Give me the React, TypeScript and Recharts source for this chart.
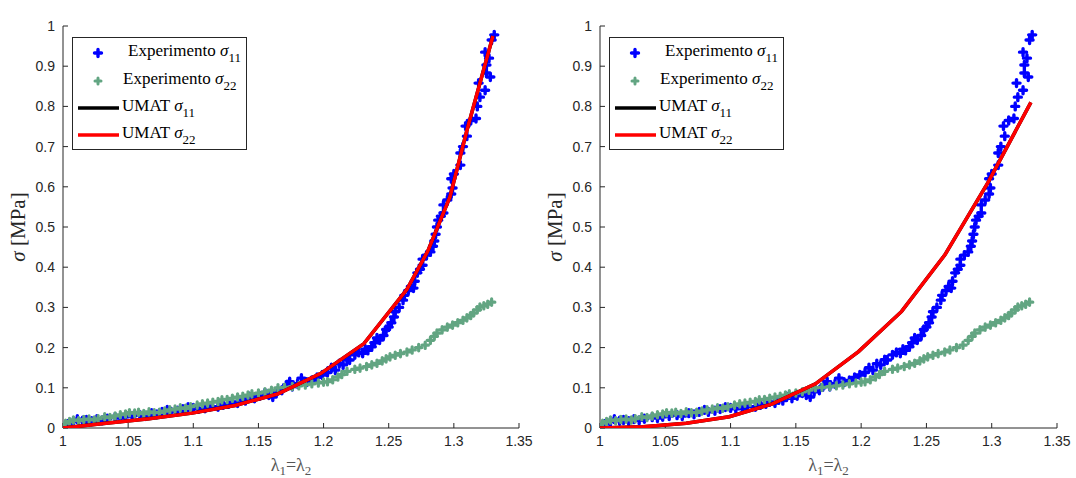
import { ComposedChart, Label, Line, Scatter, XAxis, YAxis } from "recharts";

const X_TICKS = [1, 1.05, 1.1, 1.15, 1.2, 1.25, 1.3, 1.35];
const Y_TICKS = [0, 0.1, 0.2, 0.3, 0.4, 0.5, 0.6, 0.7, 0.8, 0.9, 1];

// experimental points [lambda, sigma]
const expSigma11: [number, number][] = [
  [1.0, 0.0], [1.004, 0.01], [1.008, 0.016], [1.011, 0.022], [1.015, 0.018], [1.018, 0.02],
  [1.022, 0.017], [1.026, 0.022], [1.03, 0.019], [1.034, 0.023], [1.04, 0.027], [1.044, 0.025],
  [1.048, 0.028], [1.053, 0.03], [1.059, 0.032], [1.063, 0.03], [1.068, 0.037], [1.072, 0.034],
  [1.076, 0.04], [1.08, 0.045], [1.083, 0.04], [1.088, 0.043], [1.092, 0.047], [1.096, 0.052],
  [1.1, 0.05], [1.104, 0.048], [1.109, 0.049], [1.113, 0.054], [1.119, 0.053], [1.123, 0.058],
  [1.127, 0.06], [1.13, 0.065], [1.134, 0.062], [1.137, 0.07], [1.14, 0.068], [1.143, 0.078],
  [1.147, 0.074], [1.151, 0.08], [1.155, 0.087], [1.158, 0.082], [1.161, 0.077], [1.164, 0.09],
  [1.168, 0.094], [1.172, 0.108], [1.174, 0.115], [1.176, 0.103], [1.18, 0.11], [1.183, 0.124],
  [1.187, 0.114], [1.191, 0.118], [1.195, 0.126], [1.199, 0.132], [1.203, 0.138], [1.206, 0.15],
  [1.209, 0.144], [1.212, 0.16], [1.215, 0.157], [1.218, 0.17], [1.22, 0.169], [1.224, 0.182],
  [1.227, 0.188], [1.23, 0.186], [1.232, 0.196], [1.234, 0.193], [1.237, 0.202], [1.239, 0.212],
  [1.241, 0.224], [1.243, 0.219], [1.246, 0.23], [1.248, 0.245], [1.25, 0.251], [1.252, 0.262],
  [1.254, 0.276], [1.255, 0.289], [1.258, 0.3], [1.261, 0.318], [1.262, 0.33], [1.265, 0.342],
  [1.267, 0.352], [1.269, 0.348], [1.27, 0.365], [1.272, 0.386], [1.274, 0.395], [1.276, 0.405],
  [1.276, 0.42], [1.279, 0.43], [1.282, 0.438], [1.284, 0.452], [1.285, 0.465], [1.286, 0.482],
  [1.287, 0.5], [1.288, 0.517], [1.29, 0.527], [1.292, 0.535], [1.292, 0.555], [1.295, 0.567],
  [1.298, 0.582], [1.299, 0.597], [1.298, 0.62], [1.3, 0.632], [1.305, 0.654], [1.305, 0.684],
  [1.307, 0.7], [1.31, 0.726], [1.309, 0.751], [1.313, 0.765], [1.317, 0.77], [1.318, 0.8],
  [1.32, 0.823], [1.324, 0.84], [1.319, 0.858], [1.325, 0.883], [1.328, 0.873], [1.325, 0.903],
  [1.327, 0.92], [1.324, 0.935], [1.329, 0.965], [1.331, 0.978],
];

const expSigma22: [number, number][] = [
  [1.0, 0.0], [1.002, 0.012], [1.005, 0.016], [1.008, 0.02], [1.012, 0.018], [1.016, 0.021],
  [1.02, 0.022], [1.024, 0.02], [1.027, 0.023], [1.032, 0.028], [1.036, 0.026], [1.04, 0.03],
  [1.044, 0.033], [1.048, 0.035], [1.051, 0.038], [1.055, 0.037], [1.058, 0.039], [1.062, 0.036],
  [1.066, 0.04], [1.07, 0.038], [1.074, 0.039], [1.078, 0.042], [1.082, 0.045], [1.086, 0.047],
  [1.09, 0.05], [1.094, 0.049], [1.098, 0.053], [1.103, 0.057], [1.107, 0.06], [1.111, 0.062],
  [1.115, 0.064], [1.119, 0.066], [1.122, 0.07], [1.126, 0.071], [1.13, 0.074], [1.134, 0.077],
  [1.138, 0.079], [1.142, 0.082], [1.145, 0.085], [1.15, 0.087], [1.155, 0.09], [1.16, 0.094],
  [1.165, 0.1], [1.17, 0.101], [1.176, 0.103], [1.181, 0.105], [1.186, 0.107], [1.191, 0.11],
  [1.196, 0.112], [1.2, 0.114], [1.203, 0.115], [1.207, 0.12], [1.211, 0.127], [1.214, 0.133],
  [1.218, 0.141], [1.224, 0.146], [1.228, 0.149], [1.233, 0.153], [1.237, 0.157], [1.241, 0.161],
  [1.245, 0.167], [1.248, 0.172], [1.251, 0.177], [1.255, 0.181], [1.259, 0.185], [1.264, 0.189],
  [1.268, 0.194], [1.273, 0.2], [1.278, 0.206], [1.282, 0.218], [1.285, 0.228], [1.287, 0.236],
  [1.291, 0.244], [1.295, 0.251], [1.299, 0.256], [1.303, 0.262], [1.307, 0.268], [1.31, 0.274],
  [1.313, 0.28], [1.315, 0.286], [1.318, 0.294], [1.32, 0.301], [1.323, 0.304], [1.326, 0.308],
  [1.329, 0.313],
];

// UMAT model curves
const umatA: [number, number][] = [
  [1.0, 0.0], [1.033, 0.012], [1.066, 0.023], [1.099, 0.037], [1.132, 0.056], [1.165, 0.085],
  [1.198, 0.136], [1.231, 0.21], [1.264, 0.345], [1.28, 0.44], [1.297, 0.575], [1.31, 0.74],
  [1.33, 0.975],
];

const umatB: [number, number][] = [
  [1.0, 0.0], [1.033, 0.003], [1.066, 0.012], [1.099, 0.028], [1.132, 0.06], [1.165, 0.11],
  [1.198, 0.19], [1.231, 0.29], [1.264, 0.43], [1.297, 0.61], [1.33, 0.81],
];

const toPts = (arr: [number, number][]) => arr.map(([x, y]) => ({ x, y }));

const BLUE = "#0000ff";
const GREEN = "#62a582";
const AXIS = "#262626";
const SERIF = "'Liberation Serif', 'Times New Roman', serif";
const SANS = "'Liberation Sans', Arial, sans-serif";

function Cross(props: any) {
  const { cx, cy, color, r, w } = props;
  if (cx == null || cy == null) return <g />;
  return (
    <path
      d={`M${cx - r},${cy}H${cx + r}M${cx},${cy - r}V${cy + r}`}
      stroke={color}
      strokeWidth={w}
      strokeLinecap="round"
      fill="none"
    />
  );
}

function LegendBox({ left }: { left: number }) {
  const row = (top: number, extra: any = {}) => ({
    position: "absolute" as const,
    top: top - 11,
    height: 22,
    lineHeight: "22px",
    whiteSpace: "nowrap" as const,
    ...extra,
  });
  const sub = { fontSize: 13, position: "relative" as const, top: 6 };
  return (
    <div
      style={{
        position: "absolute",
        left,
        top: 37,
        width: 173,
        height: 111,
        border: "1px solid #262626",
        background: "#fff",
        fontFamily: SERIF,
        fontSize: 17,
        color: "#000",
      }}
    >
      <svg style={{ position: "absolute", left: 0, top: 0 }} width={173} height={111}>
        <Cross cx={25} cy={15} r={3.5} w={3.4} color={BLUE} />
        <Cross cx={25} cy={43} r={3} w={3} color={GREEN} />
        <line x1={5} x2={46} y1={70} y2={70} stroke="#000" strokeWidth={3.5} />
        <line x1={5} x2={46} y1={97} y2={97} stroke="#ff0000" strokeWidth={3.5} />
      </svg>
      <div style={row(13, { left: 55 })}>
        Experimento <i>σ</i>
        <span style={sub}>11</span>
      </div>
      <div style={row(41, { left: 50 })}>
        Experimento <i>σ</i>
        <span style={sub}>22</span>
      </div>
      <div style={row(68, { left: 49 })}>
        UMAT <i>σ</i>
        <span style={sub}>11</span>
      </div>
      <div style={row(95, { left: 49 })}>
        UMAT <i>σ</i>
        <span style={sub}>22</span>
      </div>
    </div>
  );
}

function Panel({
  left,
  width,
  plotLeft,
  plotRight,
  title,
  umat,
}: {
  left: number;
  width: number;
  plotLeft: number;
  plotRight: number;
  title: string;
  umat: [number, number][];
}) {
  const cx = (plotLeft + plotRight) / 2;
  const hidden = () => <g />;
  return (
    <div style={{ position: "absolute", left, top: 0, width, height: 478 }}>
      <ComposedChart
        width={width}
        height={478}
        margin={{ top: 26, right: width - plotRight, bottom: 20, left: plotLeft - 40 }}
      >
        <XAxis
          type="number"
          dataKey="x"
          domain={[1, 1.35]}
          ticks={X_TICKS}
          allowDataOverflow
          height={30}
          tickSize={-5}
          tickMargin={13}
          stroke={AXIS}
          tick={{ fill: AXIS, fontSize: 14, fontFamily: SANS }}
        >
          <Label
            content={() => (
              <text x={cx} y={471} textAnchor="middle" fill="#555" fontFamily={SERIF} fontSize={18}>
                <tspan>λ</tspan>
                <tspan fontSize={13} dy={4}>1</tspan>
                <tspan dy={-4}>=λ</tspan>
                <tspan fontSize={13} dy={4}>2</tspan>
              </text>
            )}
          />
        </XAxis>
        <XAxis
          xAxisId="top"
          orientation="top"
          type="number"
          dataKey="x"
          domain={[1, 1.35]}
          ticks={X_TICKS}
          allowDataOverflow
          height={0}
          tickSize={-5}
          stroke="#8a8a8a"
          tick={hidden}
        >
          <Label
            content={() => (
              <text x={cx} y={20} textAnchor="middle" fill="#000" fontFamily={SERIF} fontWeight="bold" fontSize={15}>
                {title}
              </text>
            )}
          />
        </XAxis>
        <YAxis
          type="number"
          domain={[0, 1]}
          ticks={Y_TICKS}
          allowDataOverflow
          width={40}
          tickSize={-5}
          tickMargin={13}
          stroke={AXIS}
          tick={{ fill: AXIS, fontSize: 14, fontFamily: SANS }}
        >
          <Label
            content={() => (
              <text
                x={20}
                y={227}
                transform="rotate(-90, 20, 227)"
                textAnchor="middle"
                dominantBaseline="middle"
                fill={AXIS}
                fontFamily={SERIF}
                fontSize={21}
              >
                <tspan fontStyle="italic">σ</tspan>
                <tspan> [MPa]</tspan>
              </text>
            )}
          />
        </YAxis>
        <YAxis
          yAxisId="right"
          orientation="right"
          type="number"
          domain={[0, 1]}
          ticks={Y_TICKS}
          allowDataOverflow
          width={0}
          tickSize={-5}
          stroke="#8a8a8a"
          tick={hidden}
        />
        <Scatter
          data={toPts(expSigma11)}
          dataKey="y"
          isAnimationActive={false}
          shape={(p: any) => <Cross {...p} color={BLUE} r={3.5} w={3.4} />}
        />
        <Scatter
          data={toPts(expSigma22)}
          dataKey="y"
          isAnimationActive={false}
          shape={(p: any) => <Cross {...p} color={GREEN} r={3.2} w={3.2} />}
        />
        <Line
          data={toPts(umat)}
          dataKey="y"
          type="linear"
          stroke="#000"
          strokeWidth={3.5}
          dot={false}
          isAnimationActive={false}
          zIndex={700}
        />
        <Line
          data={toPts(umat)}
          dataKey="y"
          type="linear"
          stroke="#ff0000"
          strokeWidth={3.5}
          dot={false}
          isAnimationActive={false}
          zIndex={710}
        />
      </ComposedChart>
      <LegendBox left={plotLeft + 9} />
    </div>
  );
}

export default function App() {
  return (
    <div style={{ position: "absolute", left: 0, top: 0, width: 1076, height: 478, background: "#fff" }}>
      <Panel left={0} width={540} plotLeft={63} plotRight={519} title="a)" umat={umatA} />
      <Panel left={537} width={539} plotLeft={63} plotRight={520} title="b)" umat={umatB} />
    </div>
  );
}
